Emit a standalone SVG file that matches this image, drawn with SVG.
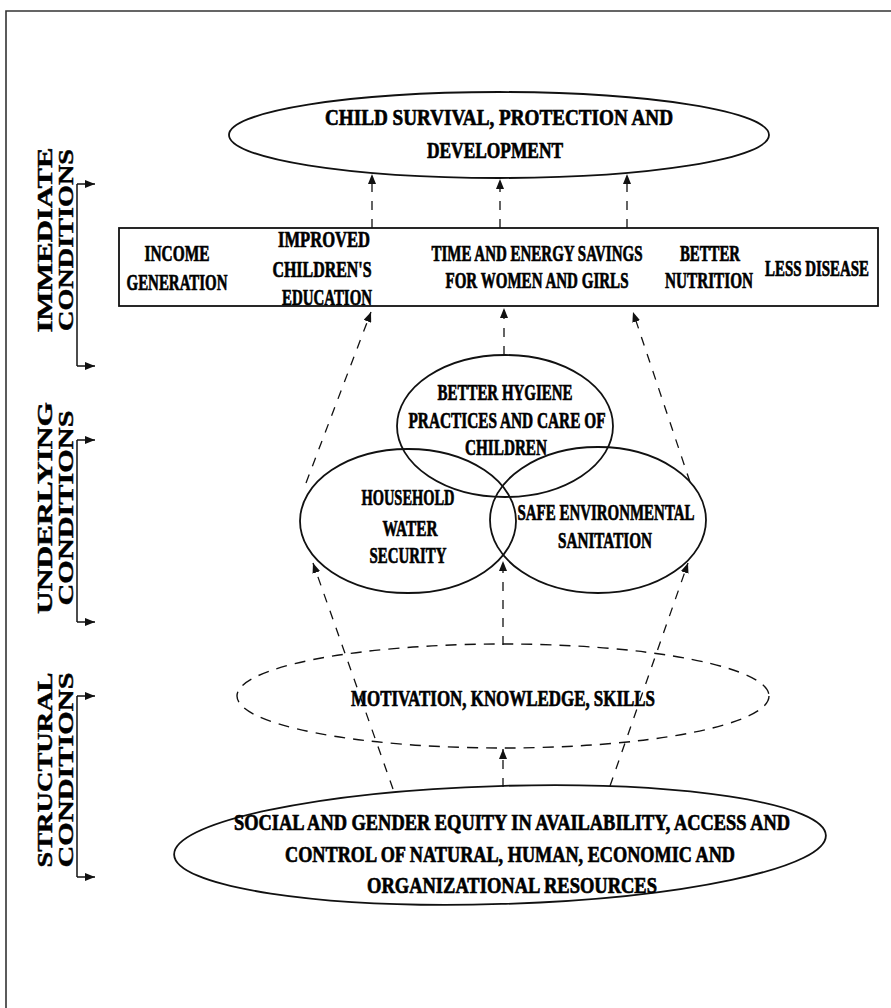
<svg xmlns="http://www.w3.org/2000/svg" width="891" height="1008" viewBox="0 0 891 1008">
<defs>
<style>
.t{font-family:"Liberation Serif","Times New Roman",serif;font-weight:bold;font-size:16.5px;text-anchor:middle;fill:#000;stroke:#000;stroke-width:0.5}
.lab{font-family:"Liberation Serif","Times New Roman",serif;font-weight:bold;font-size:22px;text-anchor:middle;fill:#000;stroke:#000;stroke-width:0.45}
.sh{fill:none;stroke:#111;stroke-width:1.8}
.dl{fill:none;stroke:#111;stroke-width:1.3;stroke-dasharray:9 9}
.br{fill:none;stroke:#111;stroke-width:1.5}
</style>
<marker id="ah" markerWidth="10" markerHeight="8" refX="10" refY="4" orient="auto" markerUnits="userSpaceOnUse"><path d="M0,0 L10,4 L0,8 z" fill="#111"/></marker>
</defs>
<rect width="891" height="1008" fill="#fff"/>
<path d="M6,1008 V11 H891" fill="none" stroke="#333" stroke-width="1.6"/>

<g id="label-immediate">
<text class="lab" transform="translate(52,240) rotate(-90)" textLength="185" lengthAdjust="spacingAndGlyphs">IMMEDIATE</text>
<text class="lab" transform="translate(73,240) rotate(-90)" textLength="182" lengthAdjust="spacingAndGlyphs">CONDITIONS</text>
<path class="br" d="M77,184 V366"/>
<path class="br" d="M77,184 H95" marker-end="url(#ah)"/>
<path class="br" d="M77,366 H95" marker-end="url(#ah)"/>
</g>
<g id="label-underlying">
<text class="lab" transform="translate(52,508) rotate(-90)" textLength="212" lengthAdjust="spacingAndGlyphs">UNDERLYING</text>
<text class="lab" transform="translate(73,508) rotate(-90)" textLength="195" lengthAdjust="spacingAndGlyphs">CONDITIONS</text>
<path class="br" d="M77,440 V622"/>
<path class="br" d="M77,440 H95" marker-end="url(#ah)"/>
<path class="br" d="M77,622 H95" marker-end="url(#ah)"/>
</g>
<g id="label-structural">
<text class="lab" transform="translate(52,770) rotate(-90)" textLength="195" lengthAdjust="spacingAndGlyphs">STRUCTURAL</text>
<text class="lab" transform="translate(73,770) rotate(-90)" textLength="195" lengthAdjust="spacingAndGlyphs">CONDITIONS</text>
<path class="br" d="M77,696 V877"/>
<path class="br" d="M77,696 H95" marker-end="url(#ah)"/>
<path class="br" d="M77,877 H95" marker-end="url(#ah)"/>
</g>

<g id="connectors">
<path class="dl" d="M372,228 V174" marker-end="url(#ah)"/>
<path class="dl" d="M500,228 V179" marker-end="url(#ah)"/>
<path class="dl" d="M627,228 V174" marker-end="url(#ah)"/>
<path class="dl" d="M306,483 L371,312" marker-end="url(#ah)"/>
<path class="dl" d="M504,355 V308" marker-end="url(#ah)"/>
<path class="dl" d="M690,482 L633,312" marker-end="url(#ah)"/>
<path class="dl" d="M393,789 L313,563" marker-end="url(#ah)"/>
<path class="dl" d="M503,645 V561" marker-end="url(#ah)"/>
<path class="dl" d="M610,786 L688,563" marker-end="url(#ah)"/>
<path class="dl" d="M503,787 V749" marker-end="url(#ah)"/>
</g>

<g id="node-child-survival">
<ellipse class="sh" cx="499" cy="135" rx="270" ry="43"/>
<text class="t" transform="translate(499,125) scale(1,1.4)" textLength="348" lengthAdjust="spacingAndGlyphs">CHILD SURVIVAL, PROTECTION AND</text>
<text class="t" transform="translate(495,158) scale(1,1.4)" textLength="136" lengthAdjust="spacingAndGlyphs">DEVELOPMENT</text>
</g>

<g id="node-immediate-box">
<rect class="sh" x="119" y="228" width="759" height="78"/>
<text class="t" transform="translate(177,261) scale(1,1.4)" textLength="65" lengthAdjust="spacingAndGlyphs">INCOME</text>
<text class="t" transform="translate(177,290) scale(1,1.4)" textLength="101" lengthAdjust="spacingAndGlyphs">GENERATION</text>
<text class="t" transform="translate(324,247) scale(1,1.4)" textLength="92" lengthAdjust="spacingAndGlyphs">IMPROVED</text>
<text class="t" transform="translate(322,277) scale(1,1.4)" textLength="99" lengthAdjust="spacingAndGlyphs">CHILDREN'S</text>
<text class="t" transform="translate(327,305) scale(1,1.4)" textLength="90" lengthAdjust="spacingAndGlyphs">EDUCATION</text>
<text class="t" transform="translate(537,261) scale(1,1.4)" textLength="211" lengthAdjust="spacingAndGlyphs">TIME AND ENERGY SAVINGS</text>
<text class="t" transform="translate(537,288) scale(1,1.4)" textLength="183" lengthAdjust="spacingAndGlyphs">FOR WOMEN AND GIRLS</text>
<text class="t" transform="translate(710,261) scale(1,1.4)" textLength="60" lengthAdjust="spacingAndGlyphs">BETTER</text>
<text class="t" transform="translate(709,288) scale(1,1.4)" textLength="88" lengthAdjust="spacingAndGlyphs">NUTRITION</text>
<text class="t" transform="translate(817,276) scale(1,1.4)" textLength="104" lengthAdjust="spacingAndGlyphs">LESS DISEASE</text>
</g>

<g id="node-hygiene">
<ellipse class="sh" cx="505" cy="426" rx="108" ry="71"/>
<text class="t" transform="translate(505,400) scale(1,1.4)" textLength="135" lengthAdjust="spacingAndGlyphs">BETTER HYGIENE</text>
<text class="t" transform="translate(507,428) scale(1,1.4)" textLength="197" lengthAdjust="spacingAndGlyphs">PRACTICES AND CARE OF</text>
<text class="t" transform="translate(506,455) scale(1,1.4)" textLength="82" lengthAdjust="spacingAndGlyphs">CHILDREN</text>
</g>

<g id="node-water">
<ellipse class="sh" cx="408" cy="521" rx="108" ry="72"/>
<text class="t" transform="translate(408,505) scale(1,1.4)" textLength="93" lengthAdjust="spacingAndGlyphs">HOUSEHOLD</text>
<text class="t" transform="translate(410,536) scale(1,1.4)" textLength="55" lengthAdjust="spacingAndGlyphs">WATER</text>
<text class="t" transform="translate(408,563) scale(1,1.4)" textLength="77" lengthAdjust="spacingAndGlyphs">SECURITY</text>
</g>

<g id="node-sanitation">
<ellipse class="sh" cx="598" cy="520" rx="108" ry="73"/>
<text class="t" transform="translate(606,520) scale(1,1.4)" textLength="177" lengthAdjust="spacingAndGlyphs">SAFE ENVIRONMENTAL</text>
<text class="t" transform="translate(605,548) scale(1,1.4)" textLength="94" lengthAdjust="spacingAndGlyphs">SANITATION</text>
</g>

<g id="node-motivation">
<ellipse cx="503" cy="696" rx="266" ry="52" fill="none" stroke="#111" stroke-width="1.4" stroke-dasharray="11 8"/>
<text class="t" transform="translate(503,706) scale(1,1.4)" textLength="304" lengthAdjust="spacingAndGlyphs">MOTIVATION, KNOWLEDGE, SKILLS</text>
</g>

<g id="node-equity">
<ellipse class="sh" cx="500" cy="845" rx="326" ry="59" transform="rotate(-1.7 500 845)"/>
<text class="t" transform="translate(512,830) scale(1,1.4)" textLength="556" lengthAdjust="spacingAndGlyphs">SOCIAL AND GENDER EQUITY IN AVAILABILITY, ACCESS AND</text>
<text class="t" transform="translate(510,862) scale(1,1.4)" textLength="450" lengthAdjust="spacingAndGlyphs">CONTROL OF NATURAL, HUMAN, ECONOMIC AND</text>
<text class="t" transform="translate(512,893) scale(1,1.4)" textLength="290" lengthAdjust="spacingAndGlyphs">ORGANIZATIONAL RESOURCES</text>
</g>
</svg>
